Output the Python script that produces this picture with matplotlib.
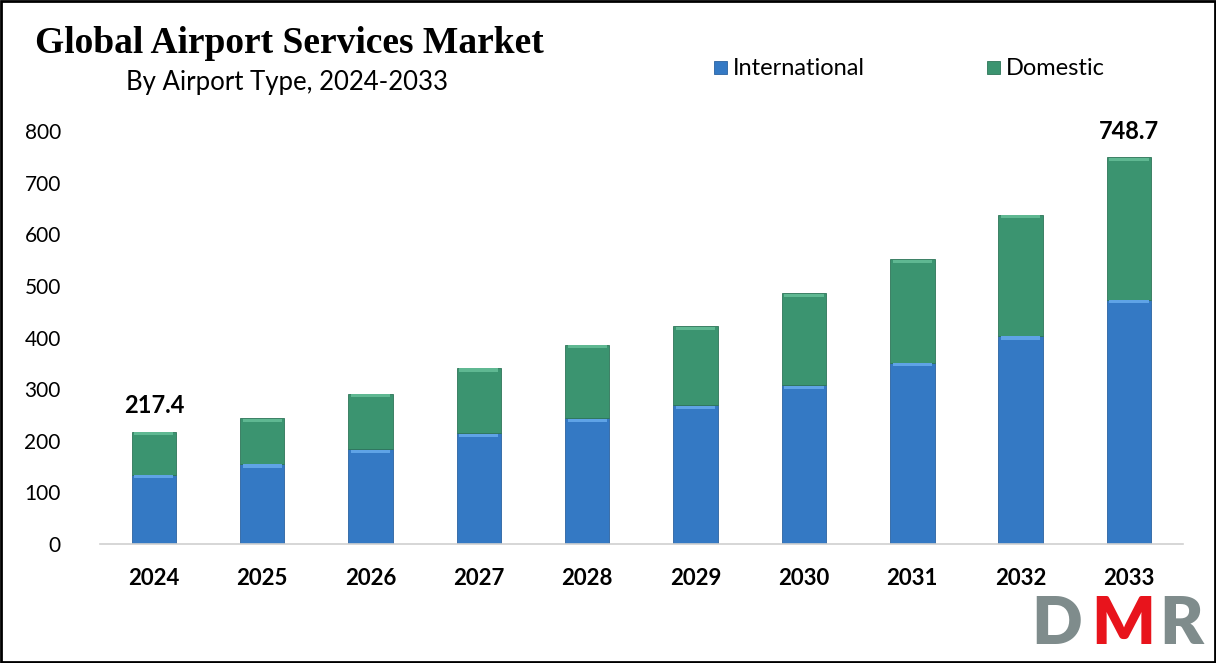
import matplotlib.pyplot as plt
import matplotlib
import numpy as np
from matplotlib.patches import Rectangle

years = ["2024", "2025", "2026", "2027", "2028", "2029", "2030", "2031", "2032", "2033"]
international = [134, 155, 184, 215, 244, 269, 308, 351, 403, 473]
domestic = [83.4, 89, 107, 126, 142, 153, 178, 201, 235, 275.7]
first_label = "217.4"
last_label = "748.7"

blue = "#3479c4"
blue_top = "#5fa3e6"
blue_edge = "#2a62a0"
green = "#3b9470"
green_top = "#5fb892"
green_edge = "#2e7558"

matplotlib.rcParams["font.family"] = ["Lato", "DejaVu Sans"]

fig = plt.figure(figsize=(12.16, 6.63), dpi=100)
ax = fig.add_axes([0.082, 0.1795, 0.891, 0.6229])

x = np.arange(len(years))
width = 0.41
intl = np.array(international)
dom = np.array(domestic)
total = intl + dom

ax.bar(x, intl, width, color=blue, edgecolor=blue_edge, linewidth=0.6, zorder=2)
ax.bar(x, dom, width, bottom=intl, color=green, edgecolor=green_edge, linewidth=0.6, zorder=2)
# light bevel strip at top of each segment
ax.bar(x, 6, width * 0.88, bottom=intl - 7, color=blue_top, linewidth=0, zorder=3)
ax.bar(x, 6, width * 0.88, bottom=total - 7, color=green_top, linewidth=0, zorder=3)

ax.set_xlim(-0.5, 9.5)
ax.set_ylim(0, 800)
ax.set_yticks(range(0, 801, 100))
ax.set_xticks(x)
ax.set_xticklabels(years, fontsize=16, fontweight="bold")
ax.tick_params(axis="y", labelsize=15, length=0, pad=28)
ax.tick_params(axis="x", length=0, pad=17)
for side in ["top", "right", "left"]:
    ax.spines[side].set_visible(False)
ax.spines["bottom"].set_color("#d0d0d0")
ax.spines["bottom"].set_linewidth(1.2)

ax.text(x[0], total[0] + 28, first_label, ha="center", va="bottom", fontsize=17, fontweight="bold")
ax.text(x[-1], total[-1] + 28, last_label, ha="center", va="bottom", fontsize=17, fontweight="bold")

fig.text(0.029, 0.935, "Global Airport Services Market", fontsize=27, fontweight="bold",
         family="Liberation Serif", va="center")
fig.text(0.104, 0.875, "By Airport Type, 2024-2033", fontsize=18.5, va="center")

# legend
fig.patches.append(Rectangle((0.587, 0.888), 0.0105, 0.0195, transform=fig.transFigure,
                             facecolor=blue, edgecolor=blue_edge, linewidth=0.6))
fig.text(0.603, 0.897, "International", fontsize=17, va="center")
fig.patches.append(Rectangle((0.812, 0.888), 0.0105, 0.0195, transform=fig.transFigure,
                             facecolor=green, edgecolor=green_edge, linewidth=0.6))
fig.text(0.827, 0.897, "Domestic", fontsize=17, va="center")

# logo
fig.text(0.848, 0.012, "D", fontsize=48, fontweight="heavy", color="#7f8c8c", va="bottom")
fig.text(0.897, 0.012, "M", fontsize=48, fontweight="heavy", color="#e8141c", va="bottom")
fig.text(0.953, 0.012, "R", fontsize=48, fontweight="heavy", color="#7f8c8c", va="bottom")

fig.patches.append(Rectangle((0.001, 0.002), 0.998, 0.996, transform=fig.transFigure,
                             fill=False, edgecolor="black", linewidth=2))

fig.savefig("out.png", dpi=100)
